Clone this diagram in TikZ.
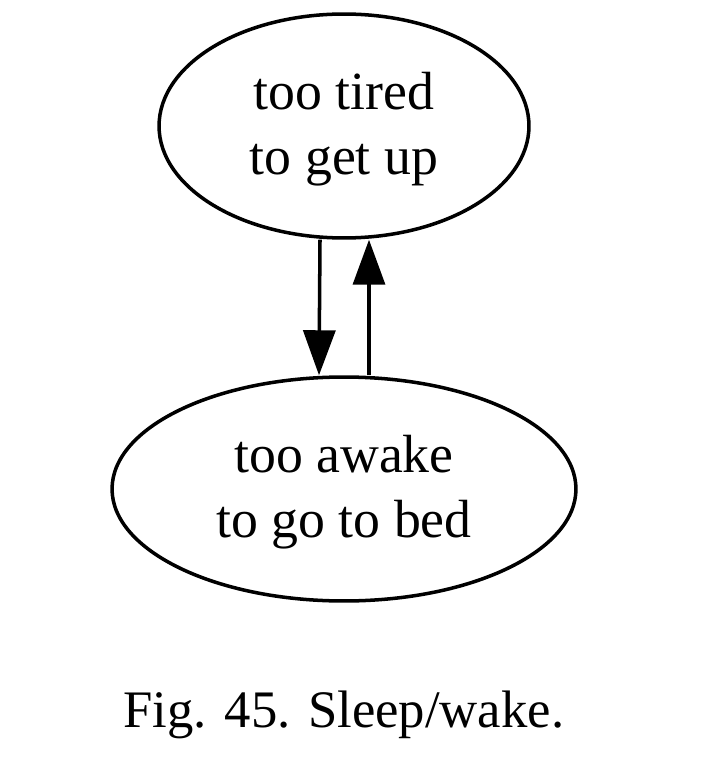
\documentclass[tikz,border=0pt]{standalone}
\usepackage{fontspec}
\setmainfont{Liberation Serif}
\usetikzlibrary{shapes.geometric,arrows.meta}

\newcommand{\lowered}[1]{\raisebox{-1.7pt}[\height][\depth]{#1}}

\begin{document}
\begin{tikzpicture}[x=0.02cm,y=-0.02cm]

      \useasboundingbox (0,0) rectangle (715,760);

      \begin{scope}[every node/.style={ellipse,draw,line width=2pt,inner sep=0pt,
          align=center,font=\fontsize{30.6}{37}\selectfont}]
        \node[minimum width=7.4cm,minimum height=4.48cm] (tired) at (344,126) {\lowered{too tired}\\\lowered{to get up}};
        \node[minimum width=9.28cm,minimum height=4.48cm] (awake) at (344,489) {\lowered{too awake}\\\lowered{to go to bed}};
      \end{scope}

      \begin{scope}[every edge/.style={draw,line width=2pt,-{Triangle[length=0.9cm,width=0.64cm]}}]
        \path[line width=2pt] ([xshift=-0.48cm]tired.south) edge ([xshift=-0.5cm]awake.north);
        \path[line width=2pt] ([xshift=0.5cm]awake.north) edge ([xshift=0.5cm]tired.south);
      \end{scope}

      \node[anchor=base,font=\fontsize{30}{37}\selectfont] (caption) at (344,727) {Fig. 45. Sleep/wake.};

    \end{tikzpicture}
\end{document}
